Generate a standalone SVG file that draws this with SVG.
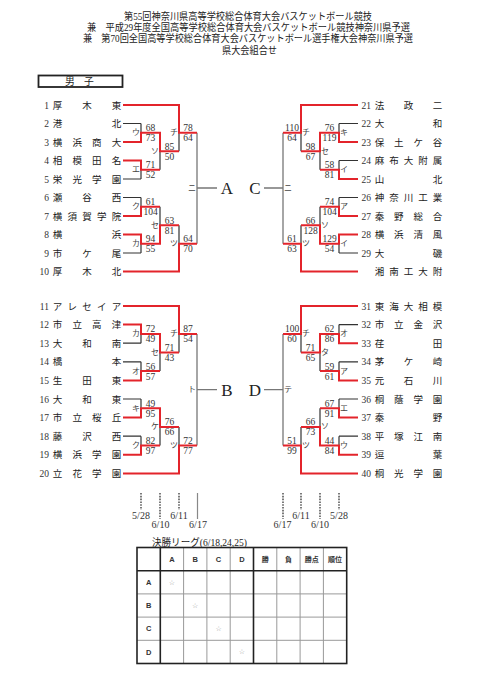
<svg xmlns="http://www.w3.org/2000/svg" width="481" height="680" viewBox="0 0 481 680">
<style>
.t{font-family:"Liberation Serif","Noto Sans CJK JP",serif;font-size:9.8px;fill:#222;text-anchor:middle}
.num{font-family:"Liberation Serif",serif;font-size:9.5px;fill:#333;text-anchor:end}
.nm{font-family:"Noto Sans CJK JP",sans-serif;font-size:9.5px;fill:#222;text-anchor:middle}
.sc{font-family:"Liberation Serif",serif;font-size:9.5px;fill:#333;text-anchor:middle}
.lb{font-family:"Noto Sans CJK JP",sans-serif;font-size:8px;fill:#444;text-anchor:middle}
.big{font-family:"Liberation Serif",serif;font-size:17px;fill:#222;text-anchor:middle}
.dt{font-family:"Liberation Serif",serif;font-size:10px;fill:#333;text-anchor:middle}
.k{fill:none;stroke:#333;stroke-width:1.2}
.r{fill:none;stroke:#e3242b;stroke-width:2}
.g{fill:none;stroke:#777;stroke-width:1.3}
.d{fill:none;stroke:#222;stroke-width:1.2;stroke-dasharray:1.6 1.2}
.tk{fill:none;stroke:#222;stroke-width:1.6}
.tg{fill:none;stroke:#999;stroke-width:1}
.th{font-family:"Liberation Sans","Noto Sans CJK JP",sans-serif;font-size:7.5px;font-weight:bold;fill:#333;text-anchor:middle}
.tj{font-family:"Noto Sans CJK JP",sans-serif;font-size:7px;font-weight:bold;fill:#333;text-anchor:middle}
.st{font-family:"DejaVu Sans",sans-serif;font-size:7px;fill:#999;text-anchor:middle}
</style>
<rect width="481" height="680" fill="#fff"/>
<g id="title">
<text class="t" x="248" y="20" textLength="248" lengthAdjust="spacingAndGlyphs">第55回神奈川県高等学校総合体育大会バスケットボール競技</text>
<text class="t" x="248.5" y="31.2" textLength="323" lengthAdjust="spacingAndGlyphs">兼　平成29年度全国高等学校総合体育大会バスケットボール競技神奈川県予選</text>
<text class="t" x="248" y="42.4" textLength="330" lengthAdjust="spacingAndGlyphs">兼　第70回全国高等学校総合体育大会バスケットボール選手権大会神奈川県予選</text>
<text class="t" x="249.5" y="53.6" textLength="55" lengthAdjust="spacingAndGlyphs">県大会組合せ</text>
</g>
<g id="section-boys">
<rect x="38.5" y="75.5" width="84" height="11.5" fill="none" stroke="#222" stroke-width="1.8"/>
<text class="t" x="70 89" y="85">男子</text>
</g>
<g id="connectors">
<path class="k" d="M123 123.5H141M123 179H141M123 197.5H141M123 253H141M141 123.5V132.75M141 169.75V179M141 197.5V206.75M141 243.75V253M160 151.25V169.75M160 206.75V225.25M179 132.75V151.25M179 225.25V243.75"/>
<path class="k" d="M123 343.2H141M123 361.8H141M123 399H141M123 436.2H141M141 333.9V343.2M141 361.8V371.1M141 399V408.3M141 436.2V445.5M160 352.5V371.1M160 426.9V445.5M179 333.9V352.5M179 426.9V445.5"/>
<path class="k" d="M358 123.5H339M358 160.5H339M358 197.5H339M358 253H339M339 123.5V132.75M339 160.5V169.75M339 197.5V206.75M339 243.75V253M320 151.25V169.75M320 206.75V225.25M301 132.75V151.25M301 225.25V243.75"/>
<path class="k" d="M358 324.6H339M358 361.8H339M358 399H339M358 436.2H339M339 324.6V333.9M339 361.8V371.1M339 399V408.3M339 436.2V445.5M320 352.5V371.1M320 408.3V426.9M301 333.9V352.5M301 426.9V445.5"/>
<path class="g" d="M197 132.75V243.75M197 188H217M197 333.9V445.5M197 389.7H217M283 132.75V243.75M283 188H264M283 333.9V445.5M283 389.7H264"/>
<path class="r" d="M123 105H179V132.75H197M123 142H141V132.75H160V151.25H179M123 160.5H141V169.75H160M123 216H141V206.75H160M123 234.5H141V243.75H160V225.25H179M123 271.5H179V243.75H197"/>
<path class="r" d="M123 306H179V333.9H197M123 324.6H141V333.9H160V352.5H179M123 380.4H141V371.1H160M123 417.6H141V408.3H160V426.9H179M123 454.8H141V445.5H160M123 473.4H179V445.5H197"/>
<path class="r" d="M358 105H301V132.75H283M358 142H339V132.75H320V151.25H301M358 179H339V169.75H320M358 216H339V206.75H320M358 234.5H339V243.75H320V225.25H301M358 271.5H301V243.75H283"/>
<path class="r" d="M358 306H301V333.9H283M358 343.2H339V333.9H320V352.5H301M358 380.4H339V371.1H320M358 417.6H339V408.3H320M358 454.8H339V445.5H320V426.9H301M358 473.4H301V445.5H283"/>
</g>
<g id="match-labels">
<text class="lb" x="136" y="135.25">ウ</text><text class="lb" x="136" y="172.25">エ</text><text class="lb" x="155" y="153.75">ソ</text><text class="lb" x="174" y="135.25">チ</text>
<text class="lb" x="136" y="209.25">ク</text><text class="lb" x="136" y="246.25">カ</text><text class="lb" x="155" y="227.75">セ</text><text class="lb" x="174" y="246.25">ツ</text>
<text class="lb" x="136" y="336.4">カ</text><text class="lb" x="136" y="373.6">オ</text><text class="lb" x="155" y="355">セ</text><text class="lb" x="174" y="336.4">チ</text>
<text class="lb" x="136" y="410.8">キ</text><text class="lb" x="136" y="448">ク</text><text class="lb" x="155" y="429.4">ケ</text><text class="lb" x="174" y="448">ツ</text>
<text class="lb" x="344" y="135.25">キ</text><text class="lb" x="344" y="172.25">イ</text><text class="lb" x="325" y="153.75">セ</text><text class="lb" x="306" y="135.25">チ</text>
<text class="lb" x="344" y="209.25">ア</text><text class="lb" x="344" y="246.25">イ</text><text class="lb" x="325" y="227.75">ソ</text><text class="lb" x="306" y="246.25">ツ</text>
<text class="lb" x="344" y="336.4">オ</text><text class="lb" x="344" y="373.6">ア</text><text class="lb" x="325" y="355">タ</text><text class="lb" x="306" y="336.4">チ</text>
<text class="lb" x="344" y="410.8">エ</text><text class="lb" x="344" y="448">ウ</text><text class="lb" x="325" y="429.4">ソ</text><text class="lb" x="306" y="448">ツ</text>
<text class="lb" x="192" y="190.5">ニ</text><text class="lb" x="192" y="392.2">ト</text><text class="lb" x="288" y="190.5">ニ</text><text class="lb" x="288" y="392.2">テ</text>
</g>
<g id="scores">
<text class="sc" x="150.5" y="131.25">68</text><text class="sc" x="150.5" y="141.25">73</text>
<text class="sc" x="150.5" y="168.25">71</text><text class="sc" x="150.5" y="178.25">52</text>
<text class="sc" x="169.5" y="149.75">85</text><text class="sc" x="169.5" y="159.75">50</text>
<text class="sc" x="188" y="131.25">78</text><text class="sc" x="188" y="141.25">64</text>
<text class="sc" x="150.5" y="205.25">61</text><text class="sc" x="150.5" y="215.25">104</text>
<text class="sc" x="150.5" y="242.25">94</text><text class="sc" x="150.5" y="252.25">55</text>
<text class="sc" x="169.5" y="223.75">63</text><text class="sc" x="169.5" y="233.75">81</text>
<text class="sc" x="188" y="242.25">64</text><text class="sc" x="188" y="252.25">70</text>
<text class="sc" x="150.5" y="332.4">72</text><text class="sc" x="150.5" y="342.4">49</text>
<text class="sc" x="150.5" y="369.6">56</text><text class="sc" x="150.5" y="379.6">57</text>
<text class="sc" x="169.5" y="351">71</text><text class="sc" x="169.5" y="361">43</text>
<text class="sc" x="188" y="332.4">87</text><text class="sc" x="188" y="342.4">54</text>
<text class="sc" x="150.5" y="406.8">49</text><text class="sc" x="150.5" y="416.8">95</text>
<text class="sc" x="150.5" y="444">82</text><text class="sc" x="150.5" y="454">97</text>
<text class="sc" x="169.5" y="425.4">76</text><text class="sc" x="169.5" y="435.4">66</text>
<text class="sc" x="188" y="444">72</text><text class="sc" x="188" y="454">77</text>
<text class="sc" x="329.5" y="131.25">76</text><text class="sc" x="329.5" y="141.25">119</text>
<text class="sc" x="329.5" y="168.25">58</text><text class="sc" x="329.5" y="178.25">81</text>
<text class="sc" x="310.5" y="149.75">98</text><text class="sc" x="310.5" y="159.75">67</text>
<text class="sc" x="292" y="131.25">110</text><text class="sc" x="292" y="141.25">64</text>
<text class="sc" x="329.5" y="205.25">74</text><text class="sc" x="329.5" y="215.25">104</text>
<text class="sc" x="329.5" y="242.25">129</text><text class="sc" x="329.5" y="252.25">54</text>
<text class="sc" x="310.5" y="223.75">66</text><text class="sc" x="310.5" y="233.75">128</text>
<text class="sc" x="292" y="242.25">61</text><text class="sc" x="292" y="252.25">63</text>
<text class="sc" x="329.5" y="332.4">62</text><text class="sc" x="329.5" y="342.4">86</text>
<text class="sc" x="329.5" y="369.6">59</text><text class="sc" x="329.5" y="379.6">61</text>
<text class="sc" x="310.5" y="351">71</text><text class="sc" x="310.5" y="361">65</text>
<text class="sc" x="292" y="332.4">100</text><text class="sc" x="292" y="342.4">60</text>
<text class="sc" x="329.5" y="406.8">67</text><text class="sc" x="329.5" y="416.8">91</text>
<text class="sc" x="329.5" y="444">44</text><text class="sc" x="329.5" y="454">84</text>
<text class="sc" x="310.5" y="425.4">66</text><text class="sc" x="310.5" y="435.4">73</text>
<text class="sc" x="292" y="444">51</text><text class="sc" x="292" y="454">99</text>
</g>
<g id="block-A"><text class="big" x="227" y="193.5">A</text></g>
<g id="block-B"><text class="big" x="227" y="395.5">B</text></g>
<g id="block-C"><text class="big" x="255" y="193.5">C</text></g>
<g id="block-D"><text class="big" x="255" y="395.5">D</text></g>
<g id="team-1"><text class="num" x="49" y="108.5">1</text><text class="nm" x="57.5 87 116.5" y="108.5">厚木東</text></g>
<g id="team-2"><text class="num" x="49" y="127">2</text><text class="nm" x="57.5 116.5" y="127">港北</text></g>
<g id="team-3"><text class="num" x="49" y="145.5">3</text><text class="nm" x="57.5 77.2 96.8 116.5" y="145.5">横浜商大</text></g>
<g id="team-4"><text class="num" x="49" y="164">4</text><text class="nm" x="57.5 77.2 96.8 116.5" y="164">相模田名</text></g>
<g id="team-5"><text class="num" x="49" y="182.5">5</text><text class="nm" x="57.5 77.2 96.8 116.5" y="182.5">栄光学園</text></g>
<g id="team-6"><text class="num" x="49" y="201">6</text><text class="nm" x="57.5 87 116.5" y="201">瀬谷西</text></g>
<g id="team-7"><text class="num" x="49" y="219.5">7</text><text class="nm" x="57.5 72.25 87 101.75 116.5" y="219.5">横須賀学院</text></g>
<g id="team-8"><text class="num" x="49" y="238">8</text><text class="nm" x="57.5 116.5" y="238">横浜</text></g>
<g id="team-9"><text class="num" x="49" y="256.5">9</text><text class="nm" x="57.5 87 116.5" y="256.5">市ケ尾</text></g>
<g id="team-10"><text class="num" x="49" y="275">10</text><text class="nm" x="57.5 87 116.5" y="275">厚木北</text></g>
<g id="team-11"><text class="num" x="49" y="309.5">11</text><text class="nm" x="57.5 72.25 87 101.75 116.5" y="309.5">アレセイア</text></g>
<g id="team-12"><text class="num" x="49" y="328.1">12</text><text class="nm" x="57.5 77.2 96.8 116.5" y="328.1">市立高津</text></g>
<g id="team-13"><text class="num" x="49" y="346.7">13</text><text class="nm" x="57.5 87 116.5" y="346.7">大和南</text></g>
<g id="team-14"><text class="num" x="49" y="365.3">14</text><text class="nm" x="57.5 116.5" y="365.3">橋本</text></g>
<g id="team-15"><text class="num" x="49" y="383.9">15</text><text class="nm" x="57.5 87 116.5" y="383.9">生田東</text></g>
<g id="team-16"><text class="num" x="49" y="402.5">16</text><text class="nm" x="57.5 87 116.5" y="402.5">大和東</text></g>
<g id="team-17"><text class="num" x="49" y="421.1">17</text><text class="nm" x="57.5 77.2 96.8 116.5" y="421.1">市立桜丘</text></g>
<g id="team-18"><text class="num" x="49" y="439.7">18</text><text class="nm" x="57.5 87 116.5" y="439.7">藤沢西</text></g>
<g id="team-19"><text class="num" x="49" y="458.3">19</text><text class="nm" x="57.5 77.2 96.8 116.5" y="458.3">横浜学園</text></g>
<g id="team-20"><text class="num" x="49" y="476.9">20</text><text class="nm" x="57.5 77.2 96.8 116.5" y="476.9">立花学園</text></g>
<g id="team-21"><text class="num" x="371" y="108.5">21</text><text class="nm" x="379.5 408.5 437.5" y="108.5">法政二</text></g>
<g id="team-22"><text class="num" x="371" y="127">22</text><text class="nm" x="379.5 437.5" y="127">大和</text></g>
<g id="team-23"><text class="num" x="371" y="145.5">23</text><text class="nm" x="379.5 398.8 418.2 437.5" y="145.5">保土ケ谷</text></g>
<g id="team-24"><text class="num" x="371" y="164">24</text><text class="nm" x="379.5 394 408.5 423 437.5" y="164">麻布大附属</text></g>
<g id="team-25"><text class="num" x="371" y="182.5">25</text><text class="nm" x="379.5 437.5" y="182.5">山北</text></g>
<g id="team-26"><text class="num" x="371" y="201">26</text><text class="nm" x="379.5 394 408.5 423 437.5" y="201">神奈川工業</text></g>
<g id="team-27"><text class="num" x="371" y="219.5">27</text><text class="nm" x="379.5 398.8 418.2 437.5" y="219.5">秦野総合</text></g>
<g id="team-28"><text class="num" x="371" y="238">28</text><text class="nm" x="379.5 398.8 418.2 437.5" y="238">横浜清風</text></g>
<g id="team-29"><text class="num" x="371" y="256.5">29</text><text class="nm" x="379.5 437.5" y="256.5">大磯</text></g>
<g id="team-30"><text class="nm" x="379.5 394 408.5 423 437.5" y="275">湘南工大附</text></g>
<g id="team-31"><text class="num" x="371" y="309.5">31</text><text class="nm" x="379.5 394 408.5 423 437.5" y="309.5">東海大相模</text></g>
<g id="team-32"><text class="num" x="371" y="328.1">32</text><text class="nm" x="379.5 398.8 418.2 437.5" y="328.1">市立金沢</text></g>
<g id="team-33"><text class="num" x="371" y="346.7">33</text><text class="nm" x="379.5 437.5" y="346.7">荏田</text></g>
<g id="team-34"><text class="num" x="371" y="365.3">34</text><text class="nm" x="379.5 408.5 437.5" y="365.3">茅ケ崎</text></g>
<g id="team-35"><text class="num" x="371" y="383.9">35</text><text class="nm" x="379.5 408.5 437.5" y="383.9">元石川</text></g>
<g id="team-36"><text class="num" x="371" y="402.5">36</text><text class="nm" x="379.5 398.8 418.2 437.5" y="402.5">桐蔭学園</text></g>
<g id="team-37"><text class="num" x="371" y="421.1">37</text><text class="nm" x="379.5 437.5" y="421.1">秦野</text></g>
<g id="team-38"><text class="num" x="371" y="439.7">38</text><text class="nm" x="379.5 398.8 418.2 437.5" y="439.7">平塚江南</text></g>
<g id="team-39"><text class="num" x="371" y="458.3">39</text><text class="nm" x="379.5 437.5" y="458.3">逗葉</text></g>
<g id="team-40"><text class="num" x="371" y="476.9">40</text><text class="nm" x="379.5 398.8 418.2 437.5" y="476.9">桐光学園</text></g>
<g id="dates">
<path class="d" d="M141 493V510M160 493V519M179 493V510M283 493V519M301 493V510M320 493V519M339 493V510"/>
<path fill="none" stroke="#888" stroke-width="1.2" d="M197.5 493V519"/>
<text class="dt" x="141" y="518.5">5/28</text><text class="dt" x="160.5" y="527.5">6/10</text><text class="dt" x="179" y="518.5">6/11</text><text class="dt" x="198" y="527.5">6/17</text>
<text class="dt" x="282.5" y="527.5">6/17</text><text class="dt" x="301" y="518.5">6/11</text><text class="dt" x="320" y="527.5">6/10</text><text class="dt" x="339" y="518.5">5/28</text>
</g>
<g id="league-table">
<text class="t" x="152" y="546" style="text-anchor:start" textLength="95" lengthAdjust="spacingAndGlyphs">決勝リーグ(6/18,24,25)</text>
<path class="tg" d="M183.6 547.5V663.5M206.9 547.5V663.5M230.2 547.5V663.5M276.8 547.5V663.5M300.1 547.5V663.5M323.4 547.5V663.5M137 593.9H346.7M137 617.1H346.7M137 640.3H346.7"/>
<path class="tk" d="M160.3 547.5V663.5M253.5 547.5V663.5M137 570.7H346.7"/>
<rect class="tk" x="137" y="547.5" width="209.7" height="116"/>
<text class="th" x="171.95" y="561.8">A</text><text class="th" x="195.25" y="561.8">B</text><text class="th" x="218.55" y="561.8">C</text><text class="th" x="241.85" y="561.8">D</text>
<text class="tj" x="265.15" y="561.6">勝</text><text class="tj" x="288.45" y="561.6">負</text><text class="tj" x="311.75" y="561.6">勝点</text><text class="tj" x="335.05" y="561.6">順位</text>
<text class="th" x="148.65" y="585">A</text><text class="th" x="148.65" y="608.2">B</text><text class="th" x="148.65" y="631.4">C</text><text class="th" x="148.65" y="654.6">D</text>
<text class="st" x="171.95" y="584.5">☆</text><text class="st" x="195.25" y="607.7">☆</text><text class="st" x="218.55" y="630.9">☆</text><text class="st" x="241.85" y="654.1">☆</text>
</g>
</svg>
